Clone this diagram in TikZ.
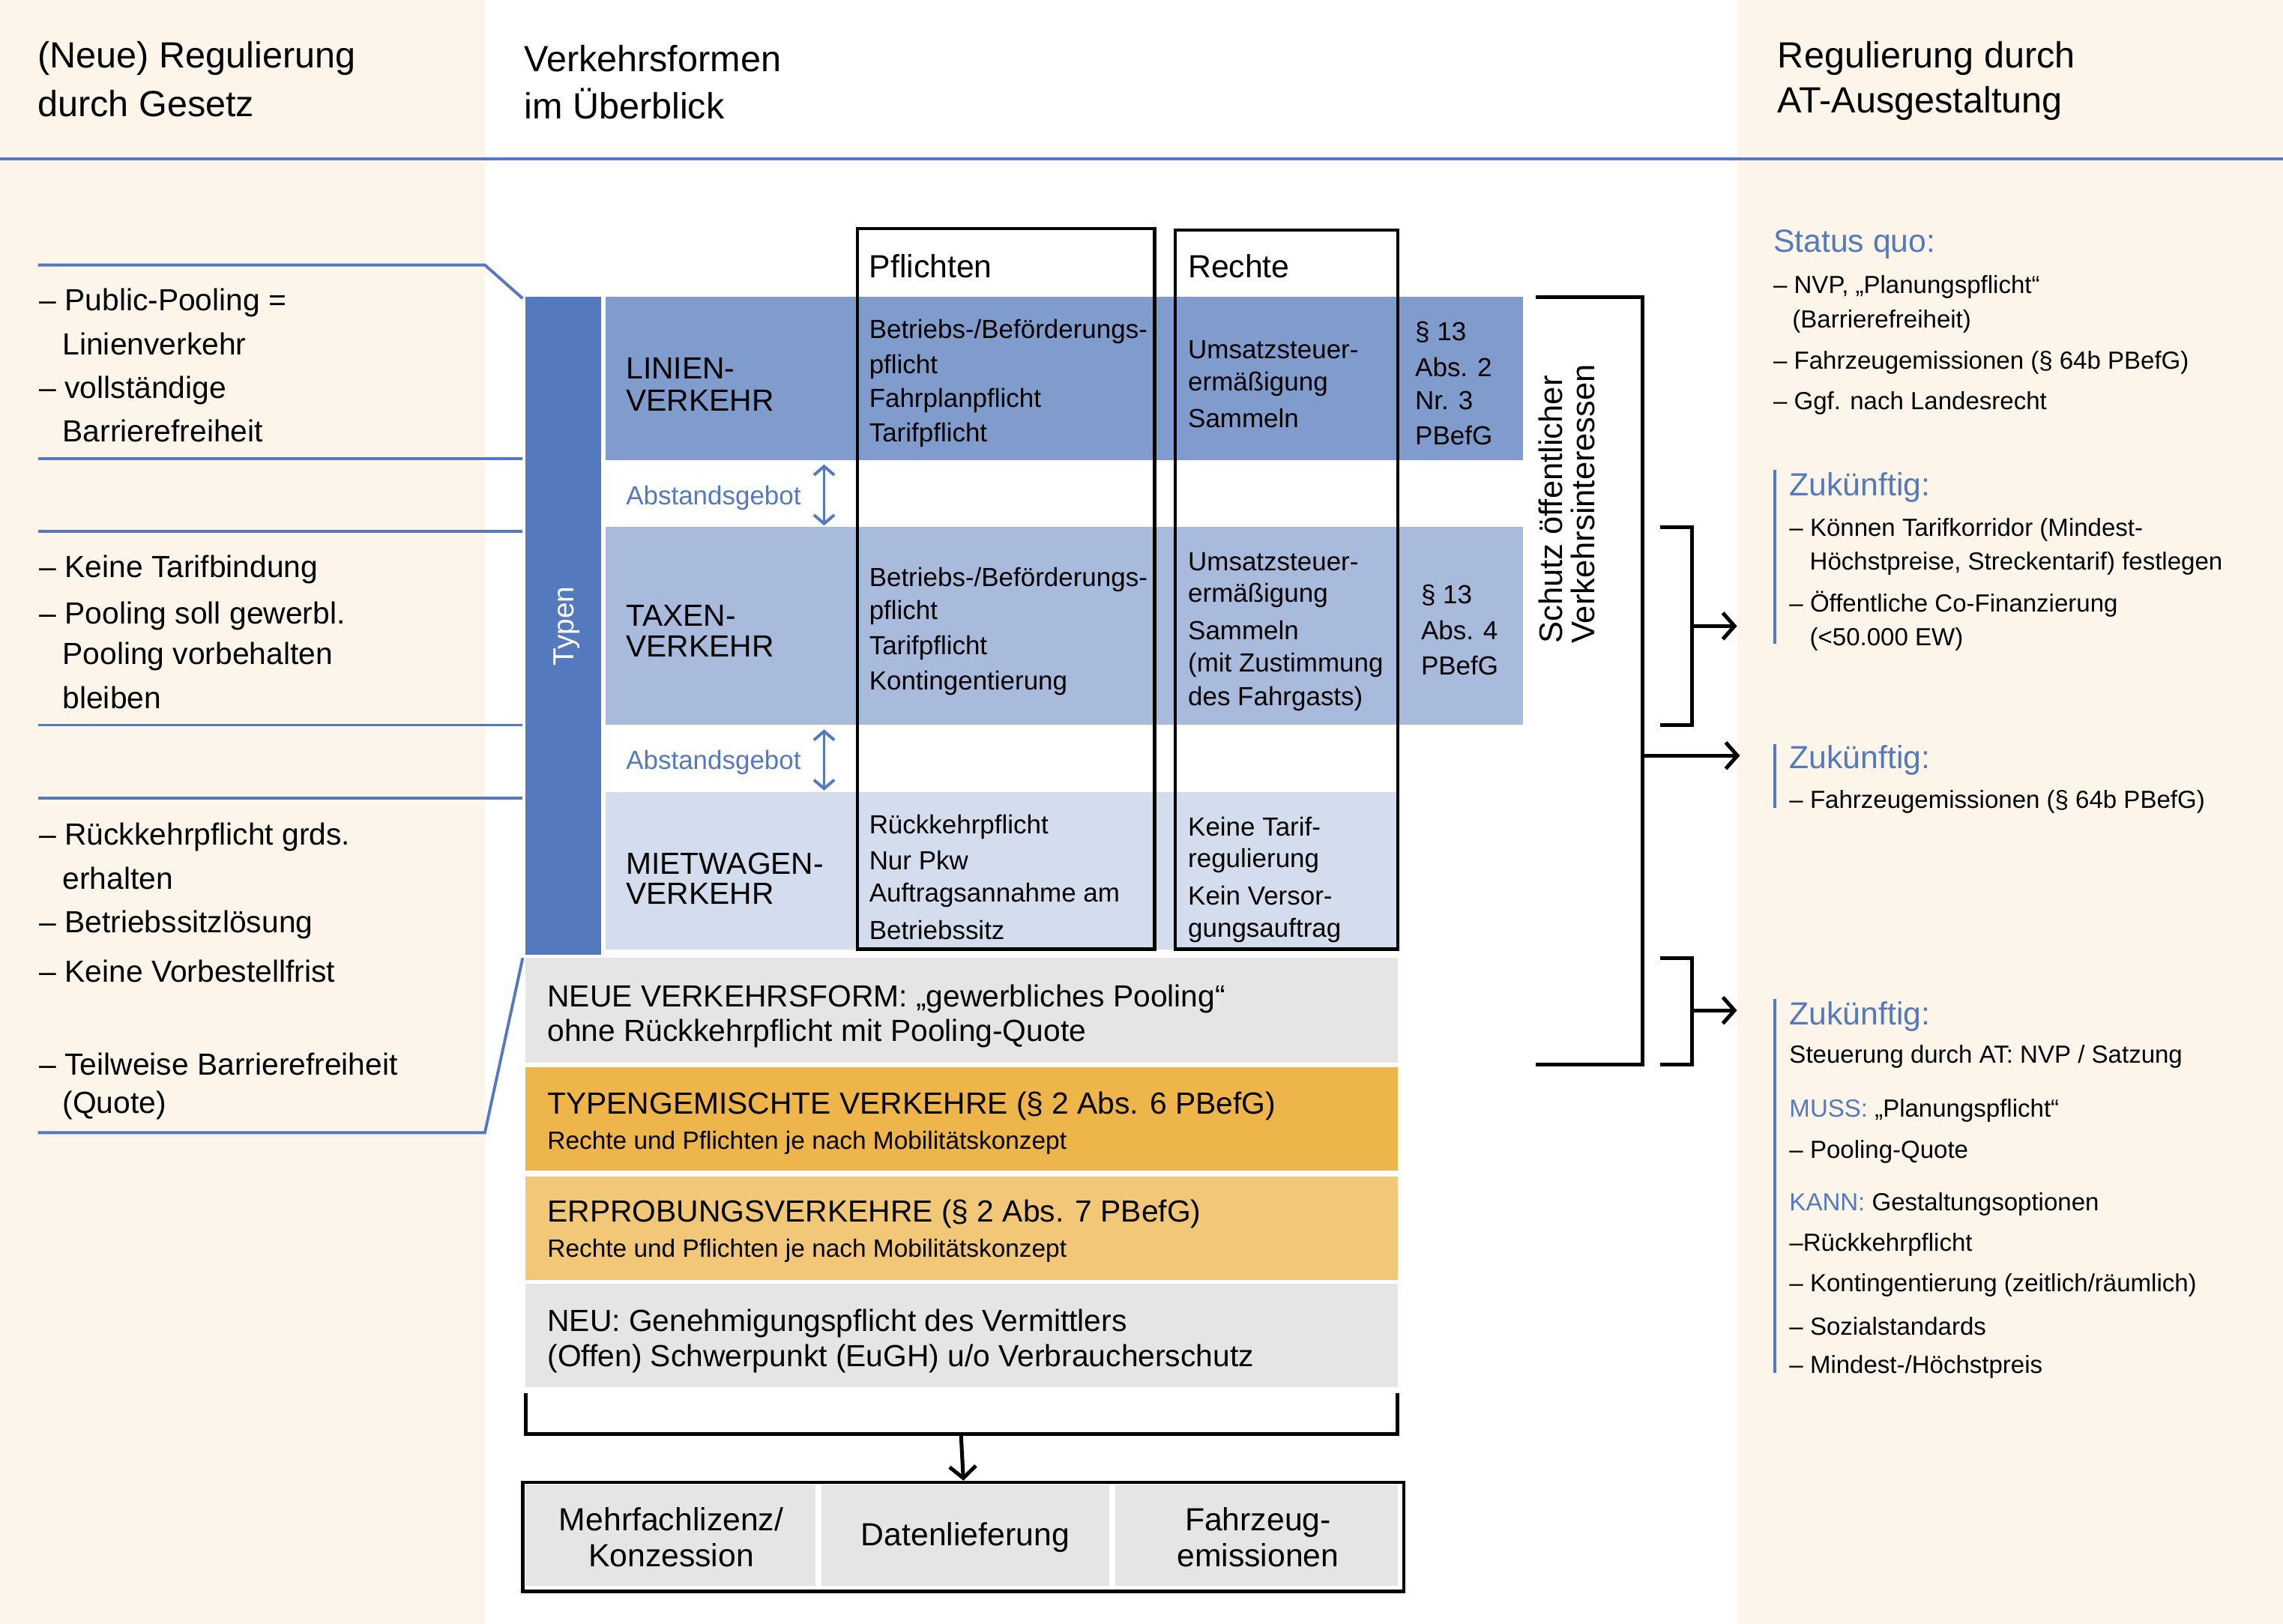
\documentclass[tikz,border=0pt]{standalone}
\usepackage{fontspec}
\setmainfont{Liberation Sans}
\usetikzlibrary{arrows.meta}
\definecolor{bg}{HTML}{FDF5E9}
\definecolor{bl}{HTML}{5479BE}
\definecolor{rowa}{HTML}{7F9CCD}
\definecolor{rowb}{HTML}{A8BBDD}
\definecolor{rowc}{HTML}{D3DDEE}
\definecolor{gr}{HTML}{E5E5E5}
\definecolor{ora}{HTML}{EEB54A}
\definecolor{orb}{HTML}{F2C878}
\begin{document}
\begin{tikzpicture}[x=0.5pt,y=-0.5pt,
  tx/.style={anchor=west,inner sep=0pt,outer sep=0pt,yshift=-1pt},
  hd/.style={tx,font=\fontsize{12.5}{15}\selectfont},
  lt/.style={tx,font=\fontsize{10.5}{12.6}\selectfont},
  ct/.style={tx,font=\fontsize{9}{10.8}\selectfont},
  st/.style={tx,font=\fontsize{8.6}{10}\selectfont},
  rt/.style={tx,font=\fontsize{8.5}{10}\selectfont},
  rh/.style={tx,font=\fontsize{11}{13}\selectfont,text=bl},
  bline/.style={draw=bl,line width=1pt},
  brk/.style={draw=black,line width=1.3pt},
  arr/.style={brk,-{Straight Barb[length=4pt,width=9pt,line width=1.3pt]}},
  darr/.style={draw=bl,line width=1pt,{Straight Barb[length=3pt,width=7pt,line width=1pt]}-{Straight Barb[length=3pt,width=7pt,line width=1pt]}},
]
\useasboundingbox (0,0) rectangle (1568,1115.5);
% backgrounds
\fill[bg] (0,0) rectangle (333,1115.5);
\fill[bg] (1193,0) rectangle (1568,1115.5);
\draw[bline] (0,109) -- (1568,109);

% headers
\node[hd] (h1a) at (26,38) {(Neue) Regulierung};
\node[hd] (h1b) at (26,69) {durch Gesetz};
\node[hd] (h2a) at (360,38) {Verkehrsformen};
\node[hd] (h2b) at (360,69) {im Überblick};
\node[hd] (h3a) at (1221,38) {Regulierung durch};
\node[hd] (h3b) at (1221,69) {AT-Ausgestaltung};

% left panel lines
\draw[bline] (26,182) -- (333,182) -- (359,205);
\draw[bline] (26,315) -- (359,315);
\draw[bline] (26,365) -- (359,365);
\draw[bline] (26,498) -- (359,498);
\draw[bline] (26,548) -- (359,548);
\draw[bline] (26,778) -- (333,778) -- (359,658);

% left panel texts
\node[lt] (la1) at (27,206) {– Public-Pooling =};
\node[lt] (la2) at (43,234) {Linienverkehr};
\node[lt] (la3) at (27,266) {– vollständige};
\node[lt] (la4) at (43,294) {Barrierefreiheit};
\node[lt] (lb1) at (27,389) {– Keine Tarifbindung};
\node[lt] (lb2) at (27,421) {– Pooling soll gewerbl.};
\node[lt] (lb3) at (43,449) {Pooling vorbehalten};
\node[lt] (lb4) at (43,477) {bleiben};
\node[lt] (lc1) at (27,573) {– Rückkehrpflicht grds.};
\node[lt] (lc2) at (43,601) {erhalten};
\node[lt] (lc3) at (27,633) {– Betriebssitzlösung};
\node[lt] (lc4) at (27,665) {– Keine Vorbestellfrist};
\node[lt] (ld1) at (27,729) {– Teilweise Barrierefreiheit};
\node[lt] (ld2) at (43,757) {(Quote)};

% Typen bar and rows
\fill[bl] (361,204) rectangle (413,656);
\node[inner sep=0pt,anchor=center,rotate=90,text=white,font=\fontsize{10}{12}\selectfont] (typen) at (389,430) {Typen};
\fill[rowa] (416,204) rectangle (1046,316);
\fill[rowb] (416,362) rectangle (1046,498);
\fill[rowc] (416,544) rectangle (960,652);

% column boxes
\draw[line width=1.1pt] (589,157) rectangle (793,652);
\draw[line width=1.1pt] (807,158) rectangle (960,652);
\node[tx,font=\fontsize{11}{13}\selectfont] (pfl) at (597,181) {Pflichten};
\node[tx,font=\fontsize{11}{13}\selectfont] (rec) at (816,181) {Rechte};

% row 1
\node[lt] (n1a) at (430,251) {LINIEN-};
\node[lt] (n1b) at (430,273) {VERKEHR};
\node[ct] (p1a) at (597,226) {Betriebs-/Beförderungs-};
\node[ct] (p1b) at (597,250) {pflicht};
\node[ct] (p1c) at (597,273) {Fahrplanpflicht};
\node[ct] (p1d) at (597,297) {Tarifpflicht};
\node[ct] (r1a) at (816,238) {Umsatzsteuer-};
\node[ct] (r1b) at (816,262) {ermäßigung};
\node[ct] (r1c) at (816,285) {Sammeln};
\node[ct] (s1a) at (972,226) {§ 13};
\node[ct] (s1b) at (972,250) {Abs. 2};
\node[ct] (s1c) at (972,273) {Nr. 3};
\node[ct] (s1d) at (972,297) {PBefG};

% gap 1
\node[ct,text=bl] (ab1) at (430,340) {Abstandsgebot};
\coordinate (ab1t) at (566,319);
\coordinate (ab1b) at (566,361);
\draw[darr] (ab1t) -- (ab1b);

% row 2
\node[lt] (n2a) at (430,421) {TAXEN-};
\node[lt] (n2b) at (430,442) {VERKEHR};
\node[ct] (p2a) at (597,396) {Betriebs-/Beförderungs-};
\node[ct] (p2b) at (597,419) {pflicht};
\node[ct] (p2c) at (597,443) {Tarifpflicht};
\node[ct] (p2d) at (597,467) {Kontingentierung};
\node[ct] (r2a) at (816,384) {Umsatzsteuer-};
\node[ct] (r2b) at (816,407) {ermäßigung};
\node[ct] (r2c) at (816,431) {Sammeln};
\node[ct] (r2d) at (816,455) {(mit Zustimmung};
\node[ct] (r2e) at (816,478) {des Fahrgasts)};
\node[ct] (s2a) at (976,407) {§ 13};
\node[ct] (s2b) at (976,431) {Abs. 4};
\node[ct] (s2c) at (976,455) {PBefG};

% gap 2
\node[ct,text=bl] (ab2) at (430,522) {Abstandsgebot};
\coordinate (ab2t) at (566,501);
\coordinate (ab2b) at (566,543);
\draw[darr] (ab2t) -- (ab2b);

% row 3
\node[lt] (n3a) at (430,591) {MIETWAGEN-};
\node[lt] (n3b) at (430,612) {VERKEHR};
\node[ct] (p3a) at (597,566) {Rückkehrpflicht};
\node[ct] (p3b) at (597,589) {Nur Pkw};
\node[ct] (p3c) at (597,613) {Auftragsannahme am};
\node[ct] (p3d) at (597,637) {Betriebssitz};
\node[ct] (r3a) at (816,566) {Keine Tarif-};
\node[ct] (r3b) at (816,589) {regulierung};
\node[ct] (r3c) at (816,613) {Kein Versor-};
\node[ct] (r3d) at (816,637) {gungsauftrag};

% lower rows
\fill[gr] (361,658) rectangle (960,730);
\node[lt] (nv1) at (376,684) {NEUE VERKEHRSFORM: „gewerbliches Pooling“};
\node[lt] (nv2) at (376,708) {ohne Rückkehrpflicht mit Pooling-Quote};
\fill[ora] (361,733) rectangle (960,804);
\node[lt] (tg1) at (376,758) {TYPENGEMISCHTE VERKEHRE (§ 2 Abs. 6 PBefG)};
\node[st] (tg2) at (376,783) {Rechte und Pflichten je nach Mobilitätskonzept};
\fill[orb] (361,808) rectangle (960,879);
\node[lt] (ep1) at (376,832) {ERPROBUNGSVERKEHRE (§ 2 Abs. 7 PBefG)};
\node[st] (ep2) at (376,857) {Rechte und Pflichten je nach Mobilitätskonzept};
\fill[gr] (361,882) rectangle (960,953);
\node[lt] (ne1) at (376,907) {NEU: Genehmigungspflicht des Vermittlers};
\node[lt] (ne2) at (376,931) {(Offen) Schwerpunkt (EuGH) u/o Verbraucherschutz};

% bottom bracket and box
\coordinate (bkl) at (361,957);
\coordinate (bkr) at (960,957);
\coordinate (bkm) at (660,985);
\draw[brk] (bkl) -- (361,985) -- (960,985) -- (bkr);
\fill[gr] (361,1020) rectangle (560,1089);
\fill[gr] (564,1020) rectangle (762,1089);
\fill[gr] (766,1020) rectangle (960,1089);
\node[draw,line width=1.2pt,minimum width=302.5pt,minimum height=37.5pt,anchor=north west,inner sep=0pt] (bbox) at (358,1017) {};
\draw[arr] (bkm) -- (bbox.north);
\node[align=center,inner sep=0pt,font=\fontsize{11}{12.5}\selectfont] (c1) at (461,1056) {Mehrfachlizenz/\\Konzession};
\node[align=center,inner sep=0pt,font=\fontsize{11}{12.5}\selectfont] (c2) at (663,1056) {Datenlieferung};
\node[align=center,inner sep=0pt,font=\fontsize{11}{12.5}\selectfont] (c3) at (864,1056) {Fahrzeug-\\emissionen};

% Schutz text and brackets
\node[tx,rotate=90,font=\fontsize{11.2}{13}\selectfont] (sch1) at (1065,440) {Schutz öffentlicher};
\node[tx,rotate=90,font=\fontsize{11.2}{13}\selectfont] (sch2) at (1087,440) {Verkehrsinteressen};
\coordinate (bga) at (1055,204);
\coordinate (bgb) at (1055,731);
\coordinate (bgm) at (1128,519);
\coordinate (bgt) at (1195,519);
\draw[brk] (bga) -- (1128,204) -- (1128,731) -- (bgb);
\draw[arr] (bgm) -- (bgt);
\coordinate (sa1) at (1140,362);
\coordinate (sa2) at (1140,498);
\coordinate (sam) at (1162,430);
\coordinate (sat) at (1193,430);
\draw[brk] (sa1) -- (1162,362) -- (1162,498) -- (sa2);
\draw[arr] (sam) -- (sat);
\coordinate (sb1) at (1140,658);
\coordinate (sb2) at (1140,731);
\coordinate (sbm) at (1162,694);
\coordinate (sbt) at (1193,694);
\draw[brk] (sb1) -- (1162,658) -- (1162,731) -- (sb2);
\draw[arr] (sbm) -- (sbt);

% right panel
\node[rh] (sq) at (1218,166) {Status quo:};
\node[rt] (sq1) at (1218,195) {– NVP, „Planungspflicht“};
\node[rt] (sq2) at (1231,219) {(Barrierefreiheit)};
\node[rt] (sq3) at (1218,247) {– Fahrzeugemissionen (§ 64b PBefG)};
\node[rt] (sq4) at (1218,275) {– Ggf. nach Landesrecht};

\draw[bline] (1219,323) -- (1219,442);
\node[rh] (z1) at (1229,333) {Zukünftig:};
\node[rt] (z1a) at (1229,362) {– Können Tarifkorridor (Mindest-};
\node[rt] (z1b) at (1243,385) {Höchstpreise, Streckentarif) festlegen};
\node[rt] (z1c) at (1229,413) {– Öffentliche Co-Finanzierung};
\node[rt] (z1d) at (1243,437) {(<50.000 EW)};

\draw[bline] (1219,511) -- (1219,555);
\node[rh] (z2) at (1229,520) {Zukünftig:};
\node[rt] (z2a) at (1229,549) {– Fahrzeugemissionen (§ 64b PBefG)};

\draw[bline] (1219,686) -- (1219,943);
\node[rh] (z3) at (1229,696) {Zukünftig:};
\node[rt] (z3a) at (1229,724) {Steuerung durch AT: NVP / Satzung};
\node[rt] (z3b) at (1229,761) {\textcolor{bl}{MUSS:} „Planungspflicht“};
\node[rt] (z3c) at (1229,789) {– Pooling-Quote};
\node[rt] (z3d) at (1229,825) {\textcolor{bl}{KANN:} Gestaltungsoptionen};
\node[rt] (z3e) at (1229,853) {–Rückkehrpflicht};
\node[rt] (z3f) at (1229,881) {– Kontingentierung (zeitlich/räumlich)};
\node[rt] (z3g) at (1229,909) {– Sozialstandards};
\node[rt] (z3h) at (1229,937) {– Mindest-/Höchstpreis};
\end{tikzpicture}
\end{document}
